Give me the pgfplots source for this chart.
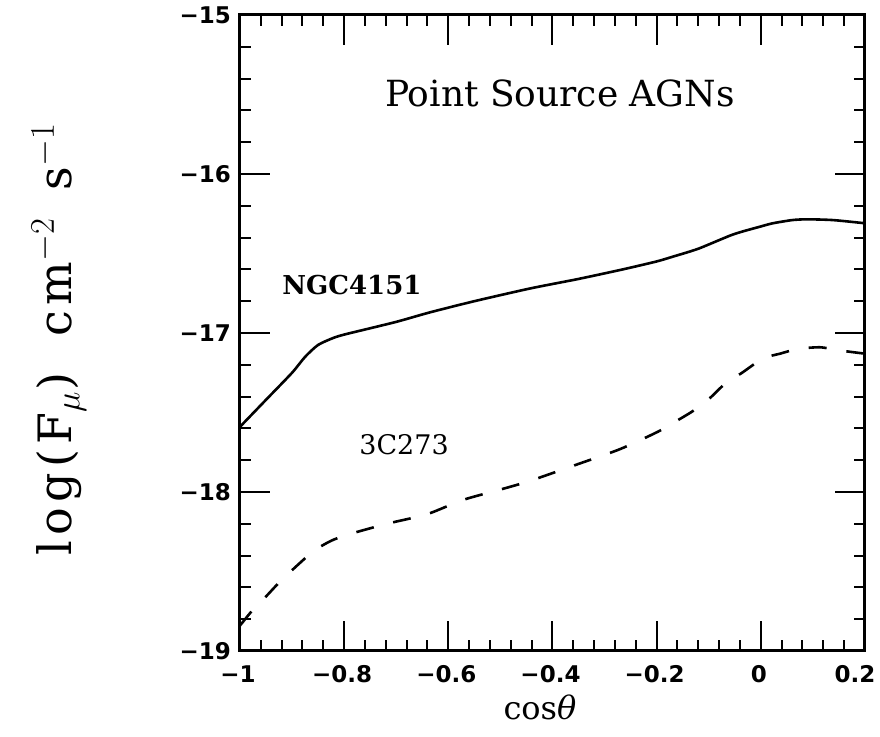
\documentclass[border=0pt]{standalone}
\usepackage{pgfplots}
\pgfplotsset{compat=1.18}
\usepackage{fontspec}
\setmainfont{DejaVu Serif}
\newfontfamily\tickfont{DejaVu Sans}
\begin{document}
\begin{tikzpicture}
\begin{axis}[
  scale only axis,
  width=312.5pt, height=318pt,
  xmin=-1, xmax=0.2, ymin=-19, ymax=-15,
  axis line style={line width=1.5pt},
  xtick={-1,-0.8,-0.6,-0.4,-0.2,0,0.2},
  xticklabels={−1,−0.8,−0.6,−0.4,−0.2,0,{\hspace*{-8pt}0.2}},
  ytick={-19,-18,-17,-16,-15},
  yticklabels={−19,−18,−17,−16,−15},
  minor x tick num=4, minor y tick num=4,
  tick align=inside,
  major tick length=15pt, minor tick length=5.5pt,
  every major tick/.style={line width=1pt, black},
  every minor tick/.style={line width=1pt, black},
  ticklabel style={font=\tickfont\bfseries\fontsize{11.5}{13}\selectfont},
  xticklabel style={yshift=-6pt, xshift=-1pt, inner sep=1pt},
  yticklabel style={xshift=-1pt},
  xlabel={cos\textit{θ}},
  ylabel={log(F$_\mu$)\hspace{18pt}cm$^{-2}$\hspace{14pt}s$^{-1}$},
  xlabel style={font=\fontsize{16}{18}\selectfont, at={(axis description cs:0.48,-0.088)}, anchor=center, inner sep=1pt},
  ylabel style={font=\addfontfeature{LetterSpace=12}\fontsize{23}{25}\selectfont, at={(axis description cs:-0.29,0.49)}, anchor=center, rotate=0},
  clip=true,
]
\addplot[black, line width=1.3pt, smooth, tension=0.4] coordinates {
(-1.0,-17.59) (-0.95,-17.42) (-0.90,-17.25) (-0.875,-17.15) (-0.85,-17.075)
(-0.82,-17.03) (-0.80,-17.01) (-0.775,-16.99) (-0.70,-16.93) (-0.635,-16.87) (-0.55,-16.80)
(-0.443,-16.72) (-0.35,-16.66) (-0.265,-16.60) (-0.20,-16.55) (-0.169,-16.52)
(-0.12,-16.47) (-0.053,-16.38) (0.0,-16.33) (0.023,-16.31) (0.06,-16.29)
(0.089,-16.285) (0.139,-16.29) (0.2,-16.31)
};
\addplot[black, line width=1.3pt, smooth, tension=0.4, dash pattern=on 9pt off 10pt] coordinates {
(-1.0,-18.84) (-0.975,-18.74) (-0.948,-18.65) (-0.919,-18.55) (-0.862,-18.38)
(-0.827,-18.31) (-0.795,-18.27) (-0.718,-18.20) (-0.641,-18.14) (-0.572,-18.05)
(-0.495,-17.98) (-0.443,-17.93) (-0.347,-17.82) (-0.270,-17.73) (-0.197,-17.62)
(-0.155,-17.54) (-0.130,-17.49) (-0.098,-17.41) (-0.069,-17.32) (-0.036,-17.25)
(0.004,-17.16) (0.037,-17.13) (0.071,-17.10) (0.114,-17.09) (0.152,-17.11) (0.2,-17.13)
};
\node[font=\fontsize{18}{20}\selectfont] at (axis cs:-0.386,-15.49) {Point Source AGNs};
\node[font=\bfseries\fontsize{13}{15}\selectfont] at (axis cs:-0.785,-16.70) {NGC4151};
\node[font=\fontsize{13.5}{15}\selectfont] at (axis cs:-0.685,-17.70) {3C273};
\end{axis}
\pgfresetboundingbox
\path[use as bounding box] ([shift={(-120pt,-43pt)}]current axis.south west) rectangle ([shift={(320pt,325.5pt)}]current axis.south west);
\end{tikzpicture}
\end{document}
